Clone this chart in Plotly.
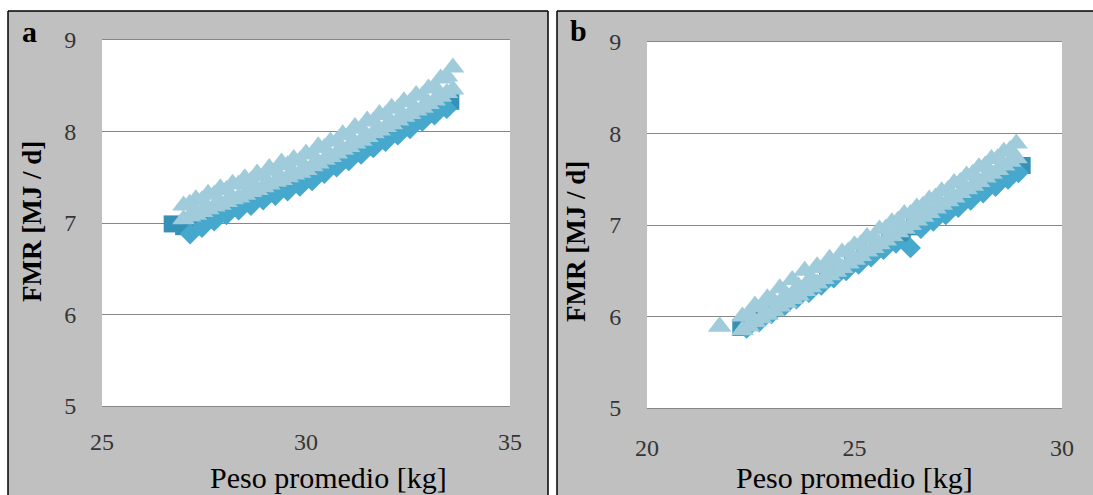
import plotly.graph_objects as go

W, H = 1093, 495

# ---------------- Panel a data ----------------
a_light_x = [27.00, 27.15, 27.30, 27.45, 27.60, 27.75, 27.90, 28.05, 28.20, 28.35,
             28.50, 28.65, 28.80, 28.95, 29.10, 29.25, 29.40, 29.55, 29.70, 29.85,
             30.00, 30.15, 30.30, 30.45, 30.60, 30.75, 30.90, 31.05, 31.20, 31.35,
             31.50, 31.65, 31.80, 31.95, 32.10, 32.25, 32.40, 32.55, 32.70, 32.85,
             33.00, 33.15, 33.30, 33.45, 33.60]
a_light_upper = [7.19, 7.21, 7.26, 7.25, 7.32, 7.31, 7.38, 7.36, 7.43, 7.42,
                 7.49, 7.46, 7.54, 7.51, 7.60, 7.57, 7.66, 7.63, 7.70, 7.68,
                 7.76, 7.75, 7.84, 7.82, 7.89, 7.89, 7.97, 7.96, 8.05, 8.03,
                 8.12, 8.11, 8.19, 8.18, 8.26, 8.25, 8.33, 8.32, 8.40, 8.39,
                 8.47, 8.49, 8.58, 8.60, 8.70]
a_light_lower = [7.04, 7.07, 7.09, 7.12, 7.15, 7.18, 7.20, 7.23, 7.26, 7.28,
                 7.31, 7.34, 7.36, 7.39, 7.42, 7.45, 7.47, 7.50, 7.53, 7.55,
                 7.58, 7.62, 7.65, 7.69, 7.72, 7.76, 7.80, 7.83, 7.87, 7.90,
                 7.94, 7.98, 8.01, 8.05, 8.08, 8.12, 8.16, 8.19, 8.23, 8.26,
                 8.30, 8.34, 8.38, 8.42, 8.46]
a_square_x = [26.72, 27.0, 27.3, 27.6, 27.9, 28.2, 28.5, 28.8, 29.1, 29.4, 29.7, 30.0,
              30.3, 30.6, 30.9, 31.2, 31.5, 31.8, 32.1, 32.4, 32.7, 33.0, 33.3, 33.55]
a_square_y = [6.99, 6.96, 6.96, 7.04, 7.11, 7.17, 7.22, 7.27, 7.32, 7.38, 7.43, 7.48,
              7.55, 7.62, 7.69, 7.76, 7.83, 7.90, 7.97, 8.05, 8.12, 8.19, 8.26, 8.33]
a_diamond_x = [27.16, 27.45, 27.75, 28.05, 28.35, 28.65, 28.95, 29.25, 29.55, 29.85, 30.15,
               30.45, 30.75, 31.05, 31.35, 31.65, 31.95, 32.25, 32.55, 32.85, 33.15, 33.45]
a_diamond_y = [6.88, 6.95, 7.02, 7.09, 7.14, 7.19, 7.25, 7.30, 7.35, 7.40, 7.46,
               7.54, 7.61, 7.68, 7.75, 7.82, 7.89, 7.96, 8.03, 8.11, 8.18, 8.25]

# ---------------- Panel b data ----------------
b_light_x = [21.75, 22.30, 22.45, 22.60, 22.75, 22.90, 23.05, 23.20, 23.35, 23.50, 23.65,
             23.80, 23.95, 24.10, 24.25, 24.40, 24.55, 24.70, 24.85, 25.00, 25.15,
             25.30, 25.45, 25.60, 25.75, 25.90, 26.05, 26.20, 26.35, 26.50, 26.65,
             26.80, 26.95, 27.10, 27.25, 27.40, 27.55, 27.70, 27.85, 28.00, 28.15,
             28.30, 28.45, 28.60, 28.75, 28.90]
b_light_upper = [5.89, 6.00, 6.03, 6.12, 6.10, 6.20, 6.17, 6.31, 6.24, 6.40, 6.33,
                 6.50, 6.42, 6.55, 6.53, 6.63, 6.60, 6.70, 6.71, 6.78, 6.79,
                 6.87, 6.86, 6.95, 6.96, 7.03, 7.05, 7.12, 7.12, 7.19, 7.21,
                 7.28, 7.30, 7.37, 7.38, 7.46, 7.47, 7.54, 7.56, 7.63, 7.65,
                 7.72, 7.73, 7.80, 7.82, 7.89]
b_light_lower = [5.89, 5.85, 5.89, 5.94, 5.98, 6.02, 6.06, 6.11, 6.15, 6.19, 6.23,
                 6.28, 6.32, 6.36, 6.41, 6.45, 6.49, 6.53, 6.58, 6.62, 6.66,
                 6.71, 6.75, 6.79, 6.83, 6.88, 6.92, 6.96, 7.00, 7.05, 7.09,
                 7.13, 7.18, 7.22, 7.26, 7.30, 7.35, 7.39, 7.43, 7.47, 7.52,
                 7.56, 7.60, 7.65, 7.69, 7.73]
b_square_x = [22.26, 22.55, 22.85, 23.15, 23.45, 23.75, 24.05, 24.35, 24.65, 24.95, 25.25, 25.55,
              25.85, 26.15, 26.45, 26.75, 27.05, 27.35, 27.65, 27.95, 28.25, 28.55, 28.85, 29.04]
b_square_y = [5.88, 5.97, 6.05, 6.13, 6.21, 6.28, 6.36, 6.44, 6.52, 6.59, 6.67, 6.75,
              6.83, 6.90, 6.98, 7.06, 7.14, 7.21, 7.29, 7.37, 7.45, 7.52, 7.60, 7.65]
b_diamond_x = [22.4, 22.7, 23.0, 23.3, 23.6, 23.9, 24.2, 24.5, 24.8, 25.1, 25.4, 25.7,
               26.0, 26.35, 26.6, 26.9, 27.2, 27.5, 27.8, 28.1, 28.4, 28.7, 28.95]
b_diamond_y = [5.87, 5.94, 6.03, 6.11, 6.19, 6.26, 6.34, 6.42, 6.50, 6.57, 6.65, 6.73,
               6.80, 6.75, 6.96, 7.04, 7.11, 7.19, 7.27, 7.35, 7.42, 7.50, 7.57]

y_ticks = [5, 6, 7, 8, 9]
a_x_ticks = [25, 30, 35]
b_x_ticks = [20, 25, 30]

C_SQUARE = "#3592b6"
C_DIAMOND = "#45a8cc"
C_LIGHT = "#9fcbdb"

SERIF = "Liberation Serif"


def px_x(v):
    return v / W


def px_y(v):
    return 1 - v / H


fig = go.Figure()


def add_panel(xs, ys, xd, yd, xl, yu, yl, xa, ya):
    fig.add_trace(go.Scatter(x=xs, y=ys, mode="markers", xaxis=xa, yaxis=ya,
                             marker=dict(symbol="square", size=17, color=C_SQUARE, line=dict(width=0)),
                             showlegend=False, hoverinfo="skip"))
    fig.add_trace(go.Scatter(x=xd, y=yd, mode="markers", xaxis=xa, yaxis=ya,
                             marker=dict(symbol="diamond", size=16, color=C_DIAMOND, line=dict(width=0)),
                             showlegend=False, hoverinfo="skip"))
    fig.add_trace(go.Scatter(x=xl, y=yl, mode="markers", xaxis=xa, yaxis=ya,
                             marker=dict(symbol="triangle-up", size=20, color=C_LIGHT, line=dict(width=0)),
                             showlegend=False, hoverinfo="skip"))
    fig.add_trace(go.Scatter(x=xl, y=yu, mode="markers", xaxis=xa, yaxis=ya,
                             marker=dict(symbol="triangle-up", size=20, color=C_LIGHT, line=dict(width=0)),
                             showlegend=False, hoverinfo="skip"))


add_panel(a_square_x, a_square_y, a_diamond_x, a_diamond_y,
          a_light_x, a_light_upper, a_light_lower, "x", "y")
add_panel(b_square_x, b_square_y, b_diamond_x, b_diamond_y,
          b_light_x, b_light_upper, b_light_lower, "x2", "y2")

# plot-area rectangles (pixels)
A_L, A_R, A_T, A_B = 102, 510, 40, 406
B_L, B_R, B_T, B_B = 647, 1062, 42, 408

tickfont = dict(family=SERIF, size=24, color="#353535")
grid = "#878787"
INVIS = "rgba(0,0,0,0)"

common_x = dict(showgrid=False, zeroline=False, showline=True, linecolor=grid, linewidth=1,
                mirror=True, ticks="outside", tickcolor=INVIS, tickfont=tickfont,
                fixedrange=True, automargin=False)
common_y = dict(showgrid=True, gridcolor=grid, gridwidth=1, zeroline=False, showline=False,
                ticks="outside", ticklen=20, tickcolor=INVIS, tickfont=tickfont,
                tickvals=y_ticks, range=[5, 9], fixedrange=True, automargin=False)

fig.update_layout(
    width=W, height=H,
    autosize=False,
    margin=dict(l=0, r=0, t=0, b=0, pad=0),
    paper_bgcolor="white",
    plot_bgcolor="rgba(0,0,0,0)",
    showlegend=False,
    xaxis=dict(domain=[px_x(A_L), px_x(A_R)], range=[25, 35], tickvals=a_x_ticks,
               anchor="y", ticklen=14, **common_x),
    yaxis=dict(domain=[px_y(A_B), px_y(A_T)], anchor="x", **common_y),
    xaxis2=dict(domain=[px_x(B_L), px_x(B_R)], range=[20, 30], tickvals=b_x_ticks,
                anchor="y2", ticklen=18, **common_x),
    yaxis2=dict(domain=[px_y(B_B), px_y(B_T)], anchor="x2", **common_y),
)

BORDER = dict(color="black", width=1.5)
shapes = [
    # grey panels (fill only, kept inside the paper)
    dict(type="rect", xref="paper", yref="paper", layer="below",
         x0=px_x(8), x1=px_x(548), y0=0, y1=px_y(11),
         fillcolor="#c0c0c0", line=dict(width=0)),
    dict(type="rect", xref="paper", yref="paper", layer="below",
         x0=px_x(557), x1=1, y0=0, y1=px_y(11),
         fillcolor="#c0c0c0", line=dict(width=0)),
    # panel frames
    dict(type="line", xref="paper", yref="paper", x0=px_x(8), x1=px_x(8), y0=0, y1=px_y(11), line=BORDER),
    dict(type="line", xref="paper", yref="paper", x0=px_x(8), x1=px_x(548), y0=px_y(11), y1=px_y(11), line=BORDER),
    dict(type="line", xref="paper", yref="paper", x0=px_x(548), x1=px_x(548), y0=0, y1=px_y(11), line=BORDER),
    dict(type="line", xref="paper", yref="paper", x0=px_x(557), x1=px_x(557), y0=0, y1=px_y(11), line=BORDER),
    dict(type="line", xref="paper", yref="paper", x0=px_x(557), x1=1, y0=px_y(11), y1=px_y(11), line=BORDER),
    # white plot areas
    dict(type="rect", xref="paper", yref="paper", layer="below",
         x0=px_x(A_L), x1=px_x(A_R), y0=px_y(A_B), y1=px_y(A_T),
         fillcolor="white", line=dict(width=0)),
    dict(type="rect", xref="paper", yref="paper", layer="below",
         x0=px_x(B_L), x1=px_x(B_R), y0=px_y(B_B), y1=px_y(B_T),
         fillcolor="white", line=dict(width=0)),
]
fig.update_layout(shapes=shapes)

ann = []
ann.append(dict(text="<b>a</b>", x=px_x(29), y=px_y(32), xref="paper", yref="paper",
                showarrow=False, xanchor="center", yanchor="middle",
                font=dict(family=SERIF, size=30, color="black")))
ann.append(dict(text="<b>b</b>", x=px_x(578), y=px_y(31), xref="paper", yref="paper",
                showarrow=False, xanchor="center", yanchor="middle",
                font=dict(family=SERIF, size=30, color="black")))
for cx, cy in [(32, 222), (576, 242)]:
    ann.append(dict(text="<b>FMR [MJ / d]</b>", x=px_x(cx), y=px_y(cy), xref="paper", yref="paper",
                    showarrow=False, xanchor="center", yanchor="middle", textangle=-90,
                    font=dict(family=SERIF, size=27, color="black")))
for cx in [328, 854]:
    ann.append(dict(text="Peso promedio [kg]", x=px_x(cx), y=0, xref="paper", yref="paper",
                    showarrow=False, xanchor="center", yanchor="bottom", borderpad=0,
                    font=dict(family=SERIF, size=30, color="black")))
fig.update_layout(annotations=ann)

fig.write_html("out.html", include_plotlyjs=True, config={"displayModeBar": False})
